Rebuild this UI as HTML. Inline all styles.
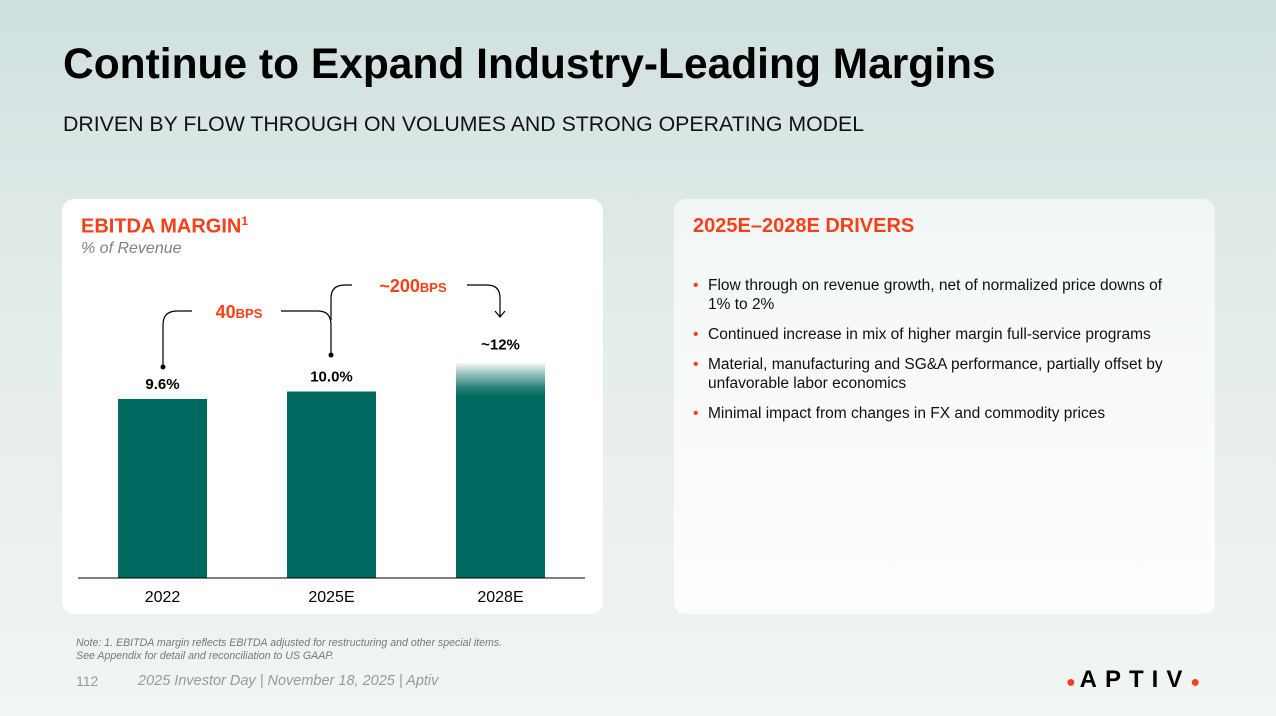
<!DOCTYPE html>
<html><head><meta charset="utf-8"><style>
body{margin:0;width:1276px;height:716px;overflow:hidden;font-family:"Liberation Sans",sans-serif;background:linear-gradient(180deg,#cfe0df 0%,#e3ecea 40%,#f1f5f4 100%);position:relative}
.abs{position:absolute}
</style></head><body>
<div class="abs" style="left:63px;top:41px;font-size:42.5px;font-weight:bold;color:#000">Continue to Expand Industry-Leading Margins</div>
<div class="abs" style="left:63px;top:112px;font-size:21.3px;color:#111">DRIVEN BY FLOW THROUGH ON VOLUMES AND STRONG OPERATING MODEL</div>
<div class="abs" style="left:62px;top:199px;width:541px;height:415px;background:#fff;border-radius:12px"></div>
<div class="abs" style="left:674px;top:199px;width:541px;height:415px;background:linear-gradient(180deg,rgba(255,255,255,0.6),rgba(255,255,255,0.85));border-radius:12px"></div>
<div class="abs" style="left:81px;top:214px;font-size:20px;font-weight:bold;color:#f84018">EBITDA MARGIN<sup style="font-size:12px">1</sup></div>
<div class="abs" style="left:81px;top:240px;font-size:16px;font-style:italic;color:#808080">% of Revenue</div>
<svg class="abs" style="left:0;top:0" width="1276" height="716">
<defs><linearGradient id="fade" x1="0" y1="0" x2="0" y2="1"><stop offset="0" stop-color="#006a60" stop-opacity="0"/><stop offset="0.12" stop-color="#006a60" stop-opacity="0.85"/><stop offset="0.16" stop-color="#006a60"/></linearGradient></defs>
<g id="bars"></g>
<line x1="78" y1="578" x2="585" y2="578" stroke="#000" stroke-width="1"/>
<g fill="none" stroke="#000" stroke-width="1.2">
<path d="M163 367 V325 Q163 311 177 311 H192"/>
<path d="M281 311 H318 Q331 311 331 325 V355"/>
<path d="M331 320 V298 Q331 285 345 285 H352"/>
<path d="M467 285 H487 Q500 285 500 298 V317"/>
<path d="M495 311 L500 317 L505 311"/>
</g>
<circle cx="163" cy="367" r="2.5" fill="#000"/><circle cx="331" cy="355" r="2.5" fill="#000"/>
<text x="239" y="318" text-anchor="middle" font-size="18" font-weight="bold" fill="#f84018">40<tspan font-size="13">BPS</tspan></text>
<text x="413" y="292" text-anchor="middle" font-size="18" font-weight="bold" fill="#f84018">~200<tspan font-size="13">BPS</tspan></text>
</svg>
<div class="abs" style="left:693px;top:215px;font-size:20px;font-weight:bold;color:#f84018">2025E–2028E DRIVERS</div>
<ul class="abs" style="left:693px;top:276px;width:485px;margin:0;padding:0;list-style:none;font-size:15.5px;color:#111;line-height:19px">
<li style="position:relative;padding-left:15px;margin-bottom:11px"><span style="position:absolute;left:0;color:#f84018">•</span>Flow through on revenue growth, net of normalized price downs of 1% to 2%</li>
<li style="position:relative;padding-left:15px;margin-bottom:11px"><span style="position:absolute;left:0;color:#f84018">•</span>Continued increase in mix of higher margin full-service programs</li>
<li style="position:relative;padding-left:15px;margin-bottom:11px"><span style="position:absolute;left:0;color:#f84018">•</span>Material, manufacturing and SG&amp;A performance, partially offset by unfavorable labor economics</li>
<li style="position:relative;padding-left:15px"><span style="position:absolute;left:0;color:#f84018">•</span>Minimal impact from changes in FX and commodity prices</li>
</ul>
<div class="abs" style="left:76px;top:637px;font-size:10.6px;font-style:italic;color:#777;line-height:13px">Note: 1. EBITDA margin reflects EBITDA adjusted for restructuring and other special items.<br>See Appendix for detail and reconciliation to US GAAP.</div>
<div class="abs" style="left:76px;top:673px;font-size:14px;color:#999">112</div>
<div class="abs" style="left:138px;top:673px;font-size:14.5px;font-style:italic;color:#999">2025 Investor Day | November 18, 2025 | Aptiv</div>
<div class="abs" style="left:1066px;top:666px;font-size:24px;font-weight:bold;letter-spacing:8px;color:#000"><span style="color:#f84018;font-size:16px;letter-spacing:4px">●</span>APTIV<span style="color:#f84018;font-size:16px">●</span></div>
<script>
const categories=["2022","2025E","2028E"];
const values=[9.6,10.0,11.6];
const valueLabels=["9.6%","10.0%","~12%"];
const NS="http://www.w3.org/2000/svg";
const baseY=578,pxPer=18.65,x0=118,step=169,bw=89;
function yScale(v){return baseY-v*pxPer;}
function xScale(i){return x0+i*step;}
const g=document.getElementById('bars');
categories.forEach((c,i)=>{
 const r=document.createElementNS(NS,'rect');
 r.setAttribute('x',xScale(i));r.setAttribute('y',yScale(values[i]));
 r.setAttribute('width',bw);r.setAttribute('height',baseY-yScale(values[i]));
 r.setAttribute('fill',i==2?'url(#fade)':'#006a60');
 
 
 g.appendChild(r);
 const t=document.createElementNS(NS,'text');
 t.setAttribute('x',xScale(i)+bw/2);t.setAttribute('y',yScale(values[i])-(i==2?12:10));
 t.setAttribute('text-anchor','middle');t.setAttribute('font-size','15');t.setAttribute('font-weight','bold');
 t.textContent=valueLabels[i];
 
 
 g.appendChild(t);
 const l=document.createElementNS(NS,'text');
 l.setAttribute('x',xScale(i)+bw/2);l.setAttribute('y',602);
 l.setAttribute('text-anchor','middle');l.setAttribute('font-size','16');
 l.textContent=c;
 
 
 g.appendChild(l);
});
</script>
</body></html>
